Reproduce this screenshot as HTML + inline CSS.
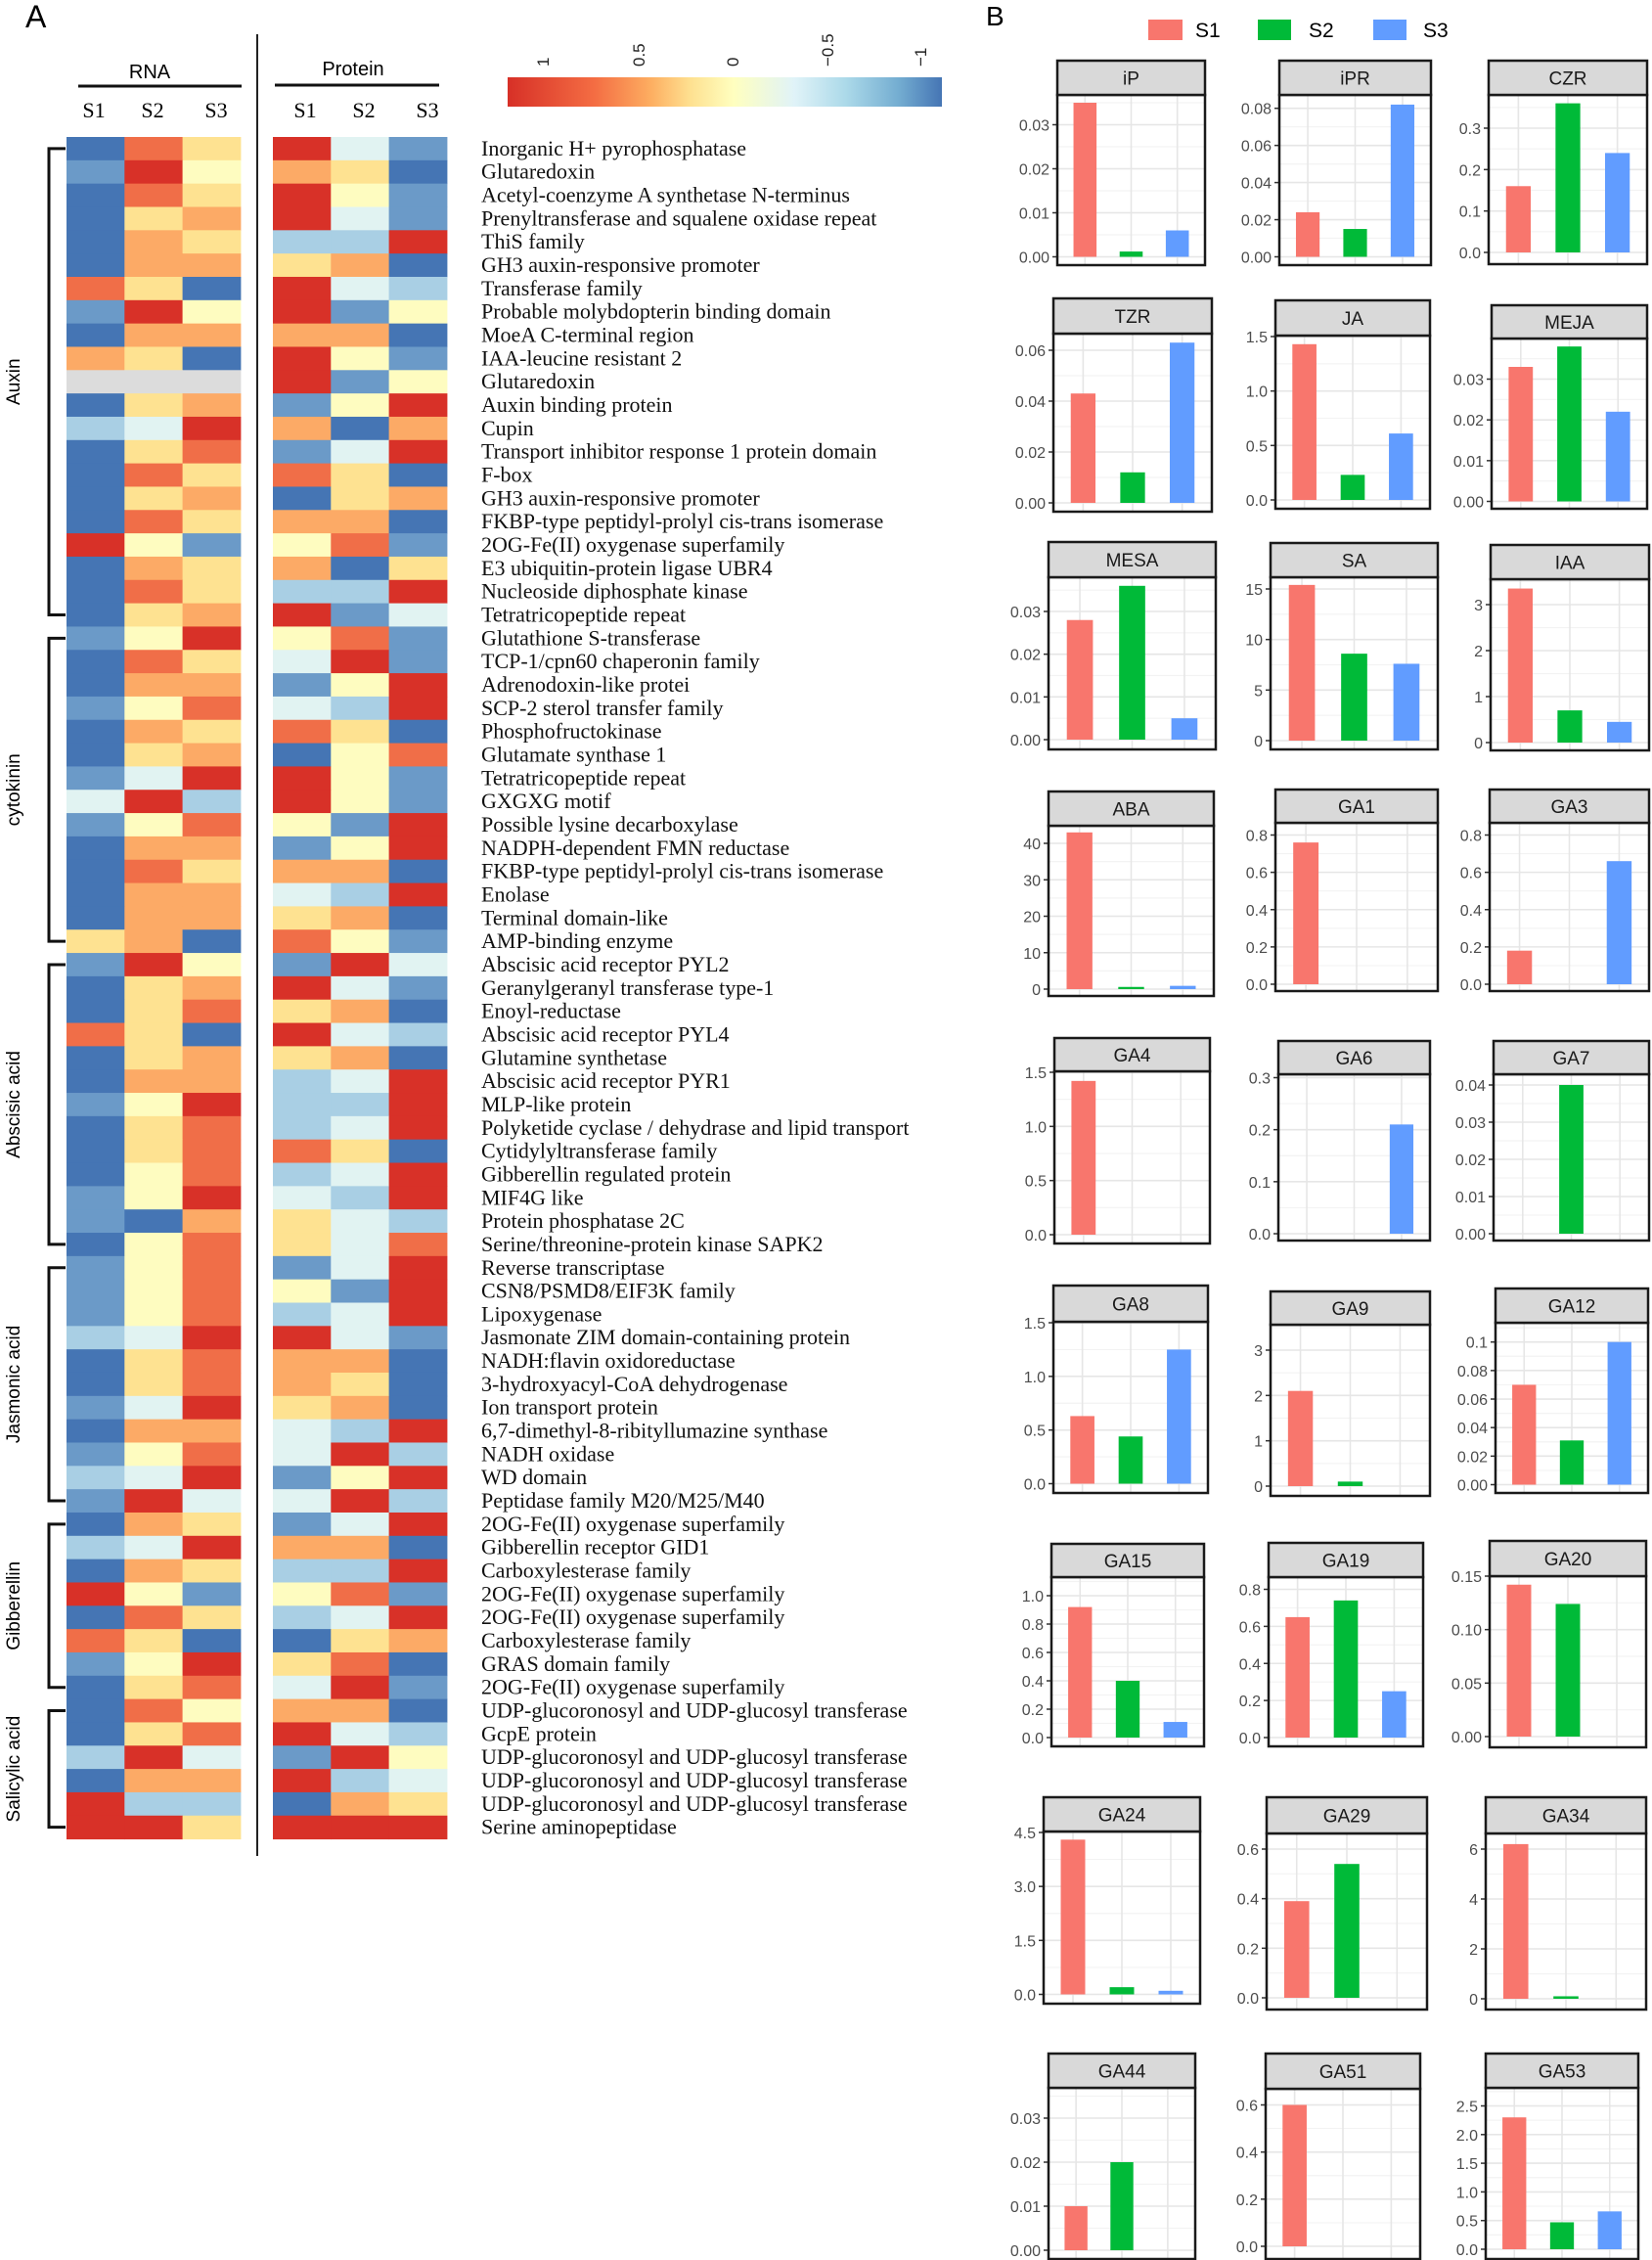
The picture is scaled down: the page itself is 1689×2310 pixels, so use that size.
<!DOCTYPE html>
<html><head><meta charset="utf-8"><style>
html,body{margin:0;padding:0;background:#fff;}
svg{display:block;}
</style></head><body>
<svg id="fig" xmlns="http://www.w3.org/2000/svg" width="1689" height="2310" viewBox="0 0 1689 2310">
<defs>
<linearGradient id="cb" x1="519" x2="963" y1="0" y2="0" gradientUnits="userSpaceOnUse">
<stop offset="0" stop-color="#d73027"/><stop offset="0.2" stop-color="#f46d43"/><stop offset="0.33" stop-color="#fdae61"/><stop offset="0.42" stop-color="#fee090"/><stop offset="0.52" stop-color="#ffffbf"/><stop offset="0.66" stop-color="#e0f3f8"/><stop offset="0.78" stop-color="#abd9e9"/><stop offset="0.9" stop-color="#74add1"/><stop offset="1" stop-color="#4575b4"/>
</linearGradient>
</defs>
<text x="26" y="28" font-family="Liberation Sans, sans-serif" font-size="32">A</text>
<text x="1008" y="26" font-family="Liberation Sans, sans-serif" font-size="28">B</text>
<text x="153" y="80" text-anchor="middle" font-family="Liberation Sans, sans-serif" font-size="20">RNA</text>
<line x1="80" y1="88" x2="247" y2="88" stroke="#111" stroke-width="3"/>
<text x="361" y="77" text-anchor="middle" font-family="Liberation Sans, sans-serif" font-size="20">Protein</text>
<line x1="281" y1="87" x2="449" y2="87" stroke="#111" stroke-width="3"/>
<g font-family="Liberation Serif, serif" font-size="22" text-anchor="middle">
<text x="96" y="120">S1</text><text x="156" y="120">S2</text><text x="221" y="120">S3</text>
<text x="312" y="120">S1</text><text x="372" y="120">S2</text><text x="437" y="120">S3</text>
</g>
<line x1="263" y1="35" x2="263" y2="1897" stroke="#222" stroke-width="2"/>
<rect x="519" y="79" width="444" height="30" fill="url(#cb)"/>
<g font-family="Liberation Sans, sans-serif" font-size="17" fill="#222">
<text transform="translate(561,68) rotate(-90)">1</text>
<text transform="translate(659,68) rotate(-90)">0.5</text>
<text transform="translate(755,68) rotate(-90)">0</text>
<text transform="translate(852,68) rotate(-90)">−0.5</text>
<text transform="translate(947,68) rotate(-90)">−1</text>
</g>
<text x="1222" y="38" font-family="Liberation Sans, sans-serif" font-size="21">S1</text>
<text x="1338" y="38" font-family="Liberation Sans, sans-serif" font-size="21">S2</text>
<text x="1455" y="38" font-family="Liberation Sans, sans-serif" font-size="21">S3</text>
<rect x="1174" y="20" width="35" height="21" fill="#F8766D"/>
<rect x="1286" y="20" width="34" height="21" fill="#00BA38"/>
<rect x="1404" y="20" width="34" height="21" fill="#619CFF"/>
<g id="dyn"></g>
</svg>
<script>
var NS="http://www.w3.org/2000/svg";
var g=document.getElementById("dyn");
function el(t,a,txt){var e=document.createElementNS(NS,t);for(var k in a)e.setAttribute(k,a[k]);if(txt!==undefined)e.textContent=txt;g.appendChild(e);return e;}
var C={B:"#4575b4",b:"#6b9ac8",l:"#a9cfe4",c:"#e1f3f2",Y:"#fefcc0",y:"#fee291",o:"#fcaa66",r:"#f06e48",R:"#d83128",G:"#dcdcdc"};
var rows=[
["Inorganic H+ pyrophosphatase","BryRcb"],["Glutaredoxin","bRYoyB"],["Acetyl-coenzyme A synthetase N-terminus","BryRYb"],
["Prenyltransferase and squalene oxidase repeat","ByoRcb"],["ThiS family","BoyllR"],["GH3 auxin-responsive promoter","BooyoB"],
["Transferase family","ryBRcl"],["Probable molybdopterin binding domain","bRYRbY"],["MoeA C-terminal region","BooooB"],
["IAA-leucine resistant 2","oyBRYb"],["Glutaredoxin","GGGRbY"],["Auxin binding protein","ByobYR"],["Cupin","lcRoBo"],
["Transport inhibitor response 1 protein domain","ByrbcR"],["F-box","BryryB"],["GH3 auxin-responsive promoter","ByoByo"],
["FKBP-type peptidyl-prolyl cis-trans isomerase","BryooB"],["2OG-Fe(II) oxygenase superfamily","RYbYrb"],
["E3 ubiquitin-protein ligase UBR4","BoyoBy"],["Nucleoside diphosphate kinase","BryllR"],["Tetratricopeptide repeat","ByoRbc"],
["Glutathione S-transferase","bYRYrb"],["TCP-1/cpn60 chaperonin family","BrycRb"],["Adrenodoxin-like protei","BoobYR"],
["SCP-2 sterol transfer family","bYrclR"],["Phosphofructokinase","BoyryB"],["Glutamate synthase 1","ByoBYr"],
["Tetratricopeptide repeat","bcRRYb"],["GXGXG motif","cRlRYb"],["Possible lysine decarboxylase","bYrYbR"],
["NADPH-dependent FMN reductase","BoobYR"],["FKBP-type peptidyl-prolyl cis-trans isomerase","BryooB"],["Enolase","BooclR"],
["Terminal domain-like","BooyoB"],["AMP-binding enzyme","yoBrYb"],["Abscisic acid receptor PYL2","bRYbRc"],
["Geranylgeranyl transferase type-1","ByoRcb"],["Enoyl-reductase","ByryoB"],["Abscisic acid receptor PYL4","ryBRcl"],
["Glutamine synthetase","ByoyoB"],["Abscisic acid receptor PYR1","BoolcR"],["MLP-like protein","bYRllR"],
["Polyketide cyclase / dehydrase and lipid transport","ByrlcR"],["Cytidylyltransferase family","ByrryB"],
["Gibberellin regulated protein","BYrlcR"],["MIF4G like","bYRclR"],["Protein phosphatase 2C","bBoycl"],
["Serine/threonine-protein kinase SAPK2","BYrycr"],["Reverse transcriptase","bYrbcR"],["CSN8/PSMD8/EIF3K family","bYrYbR"],
["Lipoxygenase","bYrlcR"],["Jasmonate ZIM domain-containing protein","lcRRcb"],["NADH:flavin oxidoreductase","ByrooB"],
["3-hydroxyacyl-CoA dehydrogenase","ByroyB"],["Ion transport protein","bcRyoB"],["6,7-dimethyl-8-ribityllumazine synthase","BooclR"],
["NADH oxidase","bYrcRl"],["WD domain","lcRbYR"],["Peptidase family M20/M25/M40","bRccRl"],
["2OG-Fe(II) oxygenase superfamily","BoybcR"],["Gibberellin receptor GID1","lcRooB"],["Carboxylesterase family","BoyllR"],
["2OG-Fe(II) oxygenase superfamily","RYbYrb"],["2OG-Fe(II) oxygenase superfamily","BrylcR"],["Carboxylesterase family","ryBByo"],
["GRAS domain family","bYRyrB"],["2OG-Fe(II) oxygenase superfamily","ByrcRb"],
["UDP-glucoronosyl and UDP-glucosyl transferase","BrYooB"],["GcpE protein","ByrRcl"],
["UDP-glucoronosyl and UDP-glucosyl transferase","lRcbRY"],["UDP-glucoronosyl and UDP-glucosyl transferase","BooRlc"],
["UDP-glucoronosyl and UDP-glucosyl transferase","RllBoy"],["Serine aminopeptidase","RRyRRR"]];
var RH=23.83,Y0=140,xs=[68,127.3,186.6,279,338.3,397.6],W=59.4;
rows.forEach(function(r,i){var y=Y0+i*RH;
 for(var j=0;j<6;j++)el("rect",{x:xs[j],y:y.toFixed(2),width:W+0.4,height:RH+0.5,fill:C[r[1][j]]});
 el("text",{x:492,y:(y+RH/2+7).toFixed(1),"font-family":"Liberation Serif, serif","font-size":"22",fill:"#111"},r[0]);
});
var groups=[["Auxin",1,21],["cytokinin",22,35],["Abscisic acid",36,48],["Jasmonic acid",49,59],["Gibberellin",60,67],["Salicylic acid",68,73]];
groups.forEach(function(q){var a=Y0+(q[1]-0.5)*RH,b=Y0+(q[2]-0.5)*RH;
 el("path",{d:"M67 "+a+" H50 V"+b+" H67",fill:"none",stroke:"#111","stroke-width":"3"});
 var m=(a+b)/2;el("text",{transform:"translate(20,"+m+") rotate(-90)","text-anchor":"middle","font-family":"Liberation Sans, sans-serif","font-size":"19"},q[0]);
});
var cols=["#F8766D","#00BA38","#619CFF"];
function P(name,x0,x1,st,sb,pb,z,tv,tp,ticks,labs,vals){
 var yv=function(v){return z-(z-tp)*v/tv;};
 el("rect",{x:x0,y:sb,width:x1-x0,height:pb-sb,fill:"#fff"});
 for(var i=0;i<ticks.length;i++){var yy=yv(ticks[i]);
  el("line",{x1:x0,x2:x1,y1:yy,y2:yy,stroke:"#e6e6e6","stroke-width":"1.6"});
  var step=ticks.length>1?ticks[1]-ticks[0]:ticks[0];
  var ym=yv(ticks[i]+step/2); if(ym>sb+2)el("line",{x1:x0,x2:x1,y1:ym,y2:ym,stroke:"#f3f3f3","stroke-width":"1.2"});
  el("line",{x1:x0-5,x2:x0,y1:yy,y2:yy,stroke:"#333","stroke-width":"1.5"});
  el("text",{x:x0-8,y:yy+6,"text-anchor":"end","font-family":"Liberation Sans, sans-serif","font-size":"16",fill:"#4d4d4d"},labs[i]);
 }
 var w=x1-x0,fr=[0.1875,0.5,0.8125],bw=0.156*w;
 for(var k=0;k<3;k++){var cx=x0+fr[k]*w;
  el("line",{x1:cx,x2:cx,y1:sb,y2:pb,stroke:"#e6e6e6","stroke-width":"1.6"});}
 for(k=0;k<3;k++){if(vals[k]<=0)continue;var cx2=x0+fr[k]*w,top=yv(vals[k]);
  el("rect",{x:cx2-bw/2,y:top,width:bw,height:z-top,fill:cols[k]});}
 el("rect",{x:x0,y:sb,width:x1-x0,height:pb-sb,fill:"none",stroke:"#1a1a1a","stroke-width":"2.5"});
 el("rect",{x:x0,y:st,width:x1-x0,height:sb-st,fill:"#d9d9d9",stroke:"#1a1a1a","stroke-width":"2.5"});
 el("text",{x:(x0+x1)/2,y:(st+sb)/2+7,"text-anchor":"middle","font-family":"Liberation Sans, sans-serif","font-size":"19",fill:"#1a1a1a"},name);
}
function rng(a,b,s,d){var t=[],l=[];for(var v=a;v<=b+1e-9;v+=s){t.push(v);l.push(v.toFixed(d));}return [t,l];}
function Q(name,x0,x1,st,sb,pb,z,tv,tp,a,b,s,d,vals){var r=rng(a,b,s,d);P(name,x0,x1,st,sb,pb,z,tv,tp,r[0],r[1],vals);}
Q("iP",1081,1232,62,97,271,262.5,0.03,127.5,0,0.03,0.01,2,[0.035,0.0012,0.006]);
Q("iPR",1308,1463,62,97,271,262.5,0.08,110.7,0,0.08,0.02,2,[0.024,0.015,0.082]);
Q("CZR",1522,1684,62,97,270,258,0.3,131,0,0.3,0.1,1,[0.16,0.36,0.24]);
Q("TZR",1077,1239,305,341,523,514,0.06,358,0,0.06,0.02,2,[0.043,0.012,0.063]);
Q("JA",1304,1462,307,343,520,511,1.5,344,0,1.5,0.5,1,[1.43,0.23,0.61]);
Q("MEJA",1525,1684,312,346,520,512.5,0.03,387.5,0,0.03,0.01,2,[0.033,0.038,0.022]);
Q("MESA",1072,1243,554,590,766,756,0.03,625,0,0.03,0.01,2,[0.028,0.036,0.005]);
Q("SA",1299,1470,555,590,766,757,15,602,0,15,5,0,[15.4,8.6,7.6]);
Q("IAA",1524,1686,557,592,767,759,3,618,0,3,1,0,[3.35,0.7,0.45]);
Q("ABA",1072,1241,809,844,1018,1011,40,862,0,40,10,0,[43,0.6,0.9]);
Q("GA1",1304,1470,807,841,1013,1006,0.8,853.5,0,0.8,0.2,1,[0.76,0,0]);
Q("GA3",1523,1686,807,841,1013,1006,0.8,853.5,0,0.8,0.2,1,[0.18,0,0.66]);
Q("GA4",1078,1237,1061,1095,1271,1262,1.5,1096,0,1.5,0.5,1,[1.42,0,0]);
Q("GA6",1307,1462,1064,1098,1268,1261,0.3,1101.5,0,0.3,0.1,1,[0,0,0.21]);
Q("GA7",1527,1686,1064,1098,1268,1261,0.04,1109,0,0.04,0.01,2,[0,0.04,0]);
Q("GA8",1077,1235,1314,1351,1526,1516.5,1.5,1352,0,1.5,0.5,1,[0.63,0.44,1.25]);
Q("GA9",1299,1462,1320,1354,1529,1519,3,1380,0,3,1,0,[2.1,0.1,0]);
P("GA12",1529,1685,1317,1352,1526,1517.5,0.1,1371.7,[0,0.02,0.04,0.06,0.08,0.1],["0.00","0.02","0.04","0.06","0.08","0.1"],[0.07,0.031,0.1]);
Q("GA15",1075,1231,1578,1612,1785,1776,1.0,1631,0,1.0,0.2,1,[0.92,0.4,0.11]);
Q("GA19",1297,1455,1577,1612,1785,1776,0.8,1624.5,0,0.8,0.2,1,[0.65,0.74,0.25]);
Q("GA20",1523,1683,1575,1611,1786,1775,0.15,1611,0,0.15,0.05,2,[0.142,0.124,0]);
Q("GA24",1067,1227,1837,1872,2048,2038.5,4.5,1873,0,4.5,1.5,1,[4.3,0.2,0.1]);
Q("GA29",1295,1459,1837,1874,2054,2042,0.6,1890,0,0.6,0.2,1,[0.39,0.54,0]);
Q("GA34",1519,1683,1837,1874,2054,2043,6,1890,0,6,2,0,[6.2,0.1,0]);
Q("GA44",1072,1222,2099,2134,2309,2300,0.03,2165,0,0.03,0.01,2,[0.01,0.02,0]);
Q("GA51",1294,1452,2099,2135,2309,2296,0.6,2151.5,0,0.6,0.2,1,[0.6,0,0]);
Q("GA53",1519,1675,2099,2134,2309,2299,2.5,2152.5,0,2.5,0.5,1,[2.3,0.47,0.66]);
</script>
</body></html>
